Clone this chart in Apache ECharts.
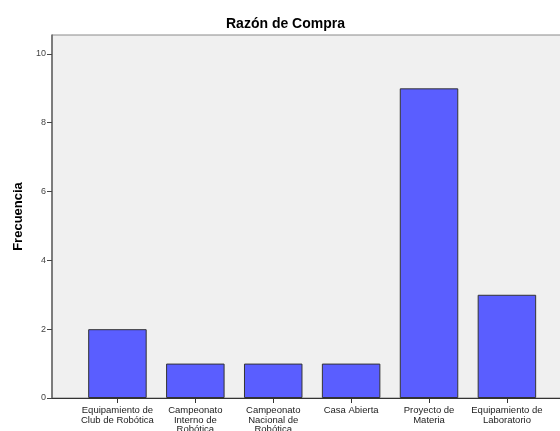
<!DOCTYPE html>
<html>
<head>
<meta charset="utf-8">
<script src="https://cdn.jsdelivr.net/npm/echarts@6/dist/echarts.min.js"></script>
<style>
  html, body { margin: 0; padding: 0; background: #fff; }
  #chart { width: 560px; height: 431px; }
</style>
</head>
<body>
<div id="chart"></div>
<script>
  // categorías (con saltos de línea como en el original)
  var categories = [
    'Equipamiento de\nClub de Robótica',
    'Campeonato\nInterno de\nRobótica',
    'Campeonato\nNacional de\nRobótica',
    'Casa Abierta',
    'Proyecto de\nMateria',
    'Equipamiento de\nLaboratorio'
  ]
  var frecuencia = [2, 1, 1, 1, 9, 3]
  var yTicks = [0, 2, 4, 6, 8, 10]

  var catIdx = categories.map(function (c, i) { return i })
  var barData = frecuencia.map(function (v, i) { return [i, v] })

  var myChart = echarts.init(document.getElementById('chart'))
  myChart.setOption({
    animation: false,
    title: {
      text: 'Razón de Compra',
      left: 226,
      top: 17,
      padding: 0,
      textStyle: {
        fontFamily: 'Liberation Sans',
        fontSize: 14,
        fontWeight: 'bold',
        color: '#000'
      }
    },
    grid: {
      left: 52,
      right: -3,
      top: 35,
      bottom: 33,
      show: true,
      backgroundColor: '#f0f0f0',
      borderColor: '#8a8a8a',
      borderWidth: 1,
      outerBoundsMode: 'none'
    },
    xAxis: {
      type: 'value',
      min: -0.84,
      max: 5.72,
      splitLine: { show: false },
      axisLine: { show: true, onZero: false, lineStyle: { color: '#333', width: 1 } },
      axisTick: { show: true, length: 5, customValues: catIdx, lineStyle: { color: '#333' } },
      axisLabel: {
        customValues: catIdx,
        margin: 8,
        fontFamily: 'Liberation Sans',
        fontSize: 9.5,
        lineHeight: 9.5,
        color: '#222',
        formatter: function (v) { return categories[v] }
      }
    },
    yAxis: {
      type: 'value',
      min: 0,
      max: 10.55,
      name: 'Frecuencia',
      nameLocation: 'middle',
      nameRotate: 90,
      nameGap: 26,
      nameTextStyle: {
        fontFamily: 'Liberation Sans',
        fontSize: 13,
        fontWeight: 'bold',
        color: '#000'
      },
      splitLine: { show: false },
      axisLine: { show: true, onZero: false, lineStyle: { color: '#666', width: 1.5 } },
      axisTick: { show: true, length: 5, customValues: yTicks, lineStyle: { color: '#444' } },
      axisLabel: {
        customValues: yTicks,
        margin: 6,
        fontFamily: 'Liberation Sans',
        fontSize: 9,
        color: '#444'
      }
    },
    series: [
      {
        type: 'bar',
        data: barData,
        barWidth: 58.5,
        itemStyle: {
          color: '#5a5eff',
          borderColor: '#333',
          borderWidth: 1
        }
      }
    ]
  })
</script>
</body>
</html>
